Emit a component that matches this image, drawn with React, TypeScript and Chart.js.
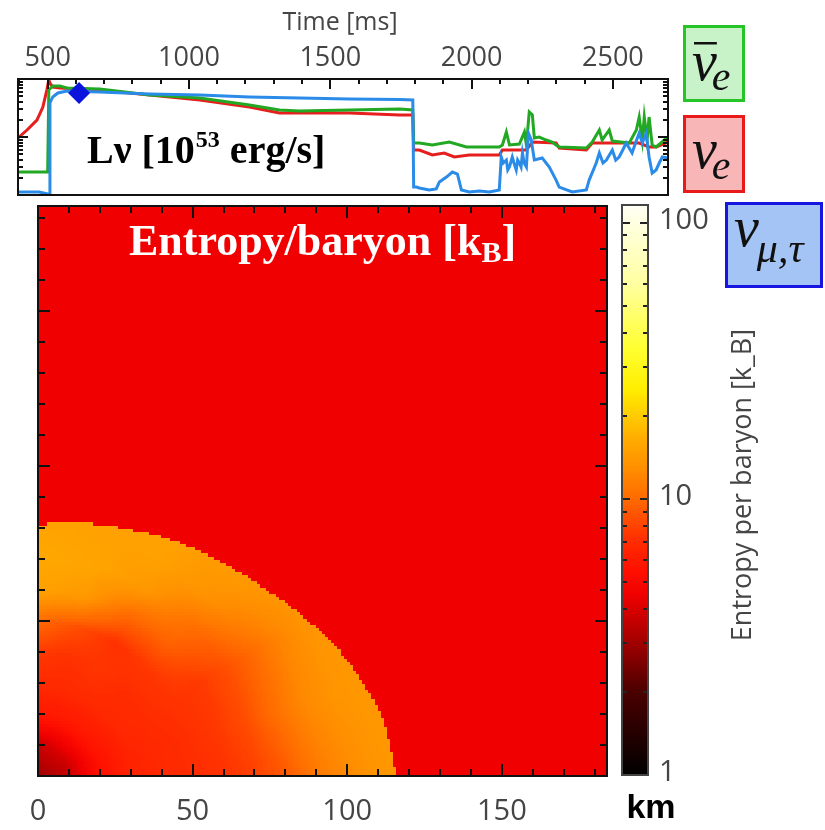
import React, { useEffect, useRef } from 'react';
import { Chart, registerables } from 'chart.js';

Chart.register(...registerables);

// ---------------- Top panel: neutrino luminosities ----------------
const TIME_MIN = 395;
const TIME_MAX = 2695;
const LUM_MIN = 0.01;
const LUM_MAX = 1;
const timeTickLabels = [500, 1000, 1500, 2000, 2500];

// electron neutrino (red)
const nuETime = [395, 427, 462, 483, 497, 504, 510, 518, 543, 684, 861, 1038, 1214, 1320, 1568, 1745, 1792, 1795, 1815, 1861, 1903, 1939, 1992, 2098, 2109, 2194, 2215, 2299, 2310, 2406, 2427, 2593, 2628, 2653, 2695];
const nuELum = [0.0962, 0.132, 0.196, 0.329, 0.646, 0.962, 0.82, 0.728, 0.70, 0.646, 0.530, 0.434, 0.329, 0.259, 0.259, 0.239, 0.239, 0.0597, 0.0597, 0.049, 0.053, 0.0452, 0.049, 0.049, 0.0597, 0.0597, 0.082, 0.0788, 0.0646, 0.0597, 0.0788, 0.0788, 0.0673, 0.0673, 0.082];

// electron anti-neutrino (green)
const nuEbarTime = [395, 500, 504, 518, 543, 568, 684, 861, 1038, 1214, 1320, 1391, 1568, 1745, 1792, 1795, 1815, 1861, 1921, 1982, 2098, 2109, 2123, 2134, 2169, 2187, 2194, 2204, 2215, 2222, 2239, 2264, 2285, 2299, 2310, 2406, 2427, 2452, 2462, 2487, 2498, 2558, 2583, 2593, 2604, 2611, 2621, 2628, 2639, 2653, 2695];
const nuEbarLum = [0.0249, 0.0249, 0.646, 0.757, 0.757, 0.70, 0.673, 0.530, 0.470, 0.356, 0.292, 0.281, 0.292, 0.304, 0.292, 0.0788, 0.0788, 0.0728, 0.082, 0.0673, 0.0673, 0.0728, 0.122, 0.0728, 0.0757, 0.122, 0.0728, 0.270, 0.239, 0.0962, 0.100, 0.0887, 0.082, 0.0728, 0.0673, 0.0646, 0.082, 0.132, 0.0887, 0.132, 0.0853, 0.0788, 0.132, 0.221, 0.0887, 0.221, 0.0887, 0.221, 0.0728, 0.0673, 0.100];

// mu/tau neutrinos (blue)
const nuXTime = [395, 470, 500, 507, 508, 518, 536, 568, 684, 861, 1038, 1214, 1391, 1568, 1745, 1792, 1795, 1805, 1815, 1850, 1875, 1886, 1911, 1932, 1950, 1964, 1992, 2028, 2063, 2098, 2105, 2112, 2123, 2128, 2134, 2144, 2150, 2158, 2163, 2169, 2175, 2180, 2186, 2194, 2201, 2211, 2222, 2250, 2275, 2299, 2310, 2356, 2406, 2416, 2441, 2452, 2465, 2477, 2498, 2510, 2522, 2535, 2547, 2568, 2580, 2593, 2604, 2618, 2628, 2639, 2653, 2664, 2675, 2695];
const nuXLum = [0.0113, 0.0113, 0.0104, 0.0101, 0.386, 0.490, 0.574, 0.621, 0.597, 0.551, 0.530, 0.490, 0.470, 0.452, 0.443, 0.434, 0.0137, 0.0137, 0.0132, 0.0122, 0.0127, 0.0168, 0.0204, 0.0249, 0.023, 0.0122, 0.0113, 0.0117, 0.0113, 0.0122, 0.0452, 0.0356, 0.0401, 0.027, 0.0304, 0.0452, 0.0356, 0.027, 0.0401, 0.0356, 0.0304, 0.053, 0.0356, 0.0304, 0.117, 0.0887, 0.0401, 0.0434, 0.0304, 0.0181, 0.0137, 0.0113, 0.0122, 0.0181, 0.0356, 0.053, 0.0356, 0.0401, 0.0597, 0.0401, 0.0452, 0.0597, 0.0788, 0.053, 0.0788, 0.117, 0.0788, 0.117, 0.0452, 0.0239, 0.027, 0.0356, 0.0452, 0.0434];

// snapshot marker
const markerTime = [611];
const markerLum = [0.574];

// ---------------- Entropy map ----------------
const KM_MAX = 184;
const kmTickLabels = [0, 50, 100, 150];
const shockAngles = [0, 10, 20, 30, 40, 50, 60, 70, 80, 90];
const shockRadius = [116, 113, 107.3, 100.8, 94.9, 90.9, 88, 85, 83, 81.2];
const gridAngles = [0, 15, 30, 45, 60, 75, 90];
const gridRadii = [0, 10, 20, 30, 40, 50, 60, 70, 80, 90, 100, 110, 120];
const entropyTheta0 = [3.0, 3.7, 5.4, 6.4, 6.8, 7.0, 7.2, 7.8, 9.0, 11, 12.5, 13.5, 14];
const entropyTheta15 = [3.0, 3.7, 5.5, 6.5, 6.8, 7.1, 7.5, 8.5, 10.5, 12.5, 13.5, 14, 14];
const entropyTheta30 = [3.0, 3.8, 5.7, 6.7, 7.0, 7.3, 7.5, 8.5, 10, 12, 13.5, 14, 14];
const entropyTheta45 = [3.0, 3.9, 5.9, 6.8, 7.0, 7.5, 9.5, 10.5, 13, 14, 14.5, 14.5, 14.5];
const entropyTheta60 = [3.0, 3.9, 5.9, 6.9, 7.4, 7.2, 10, 14, 15, 15, 15, 15, 15];
const entropyTheta75 = [3.0, 3.8, 5.9, 6.9, 7.2, 8.5, 14, 15.5, 15, 15, 15, 15, 15];
const entropyTheta90 = [3.0, 3.7, 5.9, 6.9, 7.5, 10, 15, 16, 15.5, 15.5, 15.5, 15.5, 15.5];
const outsideEntropy = 4.5;

// ---------------- Colour bar ----------------
const CB_MIN = 1;
const CB_MAX = 116;
const cbTickLabels = [1, 10, 100];
const cmapValues = [1, 2, 3, 4.5, 5.5, 7, 10, 13, 16, 25, 35, 60, 116];
const cmapColors = ['#000000', '#4a0000', '#a00000', '#f00000', '#ff1000', '#ff2c00', '#ff6a00', '#ff9000', '#ffa800', '#ffee00', '#ffff30', '#ffffa0', '#fffff5'];

const BLUE = '#2a8ce8';
const GREEN = '#22a822';
const RED = '#e61e1e';
const LABEL_FONT = '"Open Sans", "DejaVu Sans", sans-serif';
const LABEL_COLOR = '#454545';

// ---------------- helpers ----------------
function hexToRgb(h: string) {
  const n = parseInt(h.slice(1), 16);
  return [(n >> 16) & 255, (n >> 8) & 255, n & 255];
}
const cmapRgb = cmapColors.map(hexToRgb);
const cmapLog = cmapValues.map((v) => Math.log10(v));
const LUT_N = 600;
const LUT: string[] = [];
(function buildLut() {
  const lo = Math.log10(CB_MIN), hi = Math.log10(CB_MAX);
  for (let i = 0; i <= LUT_N; i++) {
    const lv = lo + ((hi - lo) * i) / LUT_N;
    let k = 0;
    while (k < cmapLog.length - 2 && lv > cmapLog[k + 1]) k++;
    const f = Math.max(0, Math.min(1, (lv - cmapLog[k]) / (cmapLog[k + 1] - cmapLog[k])));
    const a = cmapRgb[k], b = cmapRgb[k + 1];
    const c = a.map((ch, j) => Math.round(ch + (b[j] - ch) * f));
    LUT.push(`rgb(${c[0]},${c[1]},${c[2]})`);
  }
})();
function colorFor(v: number) {
  const lo = Math.log10(CB_MIN), hi = Math.log10(CB_MAX);
  const t = (Math.log10(Math.max(CB_MIN, Math.min(CB_MAX, v))) - lo) / (hi - lo);
  return LUT[Math.round(t * LUT_N)];
}
function interp1(xs: number[], ys: number[], x: number) {
  if (x <= xs[0]) return ys[0];
  for (let i = 1; i < xs.length; i++) {
    if (x <= xs[i]) {
      const f = (x - xs[i - 1]) / (xs[i] - xs[i - 1]);
      return ys[i - 1] + (ys[i] - ys[i - 1]) * f;
    }
  }
  return ys[ys.length - 1];
}
const entropyRows = [entropyTheta0, entropyTheta15, entropyTheta30, entropyTheta45, entropyTheta60, entropyTheta75, entropyTheta90];
function entropyAt(xk: number, yk: number) {
  const r = Math.hypot(xk, yk);
  const th = (Math.atan2(yk, xk) * 180) / Math.PI;
  const shock = interp1(shockAngles, shockRadius, th);
  if (r > shock) return outsideEntropy;
  const rowVals = entropyRows.map((row) => Math.log10(interp1(gridRadii, row, r)));
  return Math.pow(10, interp1(gridAngles, rowVals, th));
}

// ---------------- plugins ----------------
const topDecor = {
  id: 'topDecor',
  afterDraw(chart: any) {
    const { ctx, chartArea: a, scales } = chart;
    const xs = scales.x, ys = scales.y;
    ctx.save();
    ctx.strokeStyle = '#111';
    ctx.lineWidth = 2;
    ctx.beginPath();
    for (let t = 400; t <= 2600; t += 100) {
      const px = Math.round(xs.getPixelForValue(t));
      const len = t % 500 === 0 ? 10 : 5;
      ctx.moveTo(px, a.top);
      ctx.lineTo(px, a.top + len);
    }
    for (const d of [0.01, 0.1]) {
      for (let k = 1; k <= 9; k++) {
        const v = k * d;
        if (v <= LUM_MIN || v >= LUM_MAX) continue;
        const py = Math.round(ys.getPixelForValue(v));
        const len = k === 1 ? 10 : 5;
        ctx.moveTo(a.left, py);
        ctx.lineTo(a.left + len, py);
        ctx.moveTo(a.right, py);
        ctx.lineTo(a.right - len, py);
      }
    }
    ctx.stroke();
    ctx.strokeRect(a.left, a.top, a.right - a.left, a.bottom - a.top);
    // tick labels
    ctx.fillStyle = LABEL_COLOR;
    ctx.font = `27px ${LABEL_FONT}`;
    ctx.textAlign = 'center';
    ctx.textBaseline = 'middle';
    for (const t of timeTickLabels) {
      ctx.fillText(String(t), xs.getPixelForValue(t), 58);
    }
    ctx.font = `25px ${LABEL_FONT}`;
    ctx.fillText('Time [ms]', (a.left + a.right) / 2 - 3, 23);
    // panel label
    ctx.fillStyle = '#000';
    ctx.textAlign = 'left';
    ctx.textBaseline = 'alphabetic';
    const big = 'bold 40px "Liberation Serif", serif';
    const sup = 'bold 24px "Liberation Serif", serif';
    let x0 = 87;
    ctx.font = big;
    const s1 = 'L\u03bd [10';
    ctx.fillText(s1, x0, 163);
    x0 += ctx.measureText(s1).width;
    ctx.font = sup;
    ctx.fillText('53', x0 + 1, 147);
    x0 += ctx.measureText('53').width + 1;
    ctx.font = big;
    ctx.fillText(' erg/s]', x0, 163);

    // legend boxes
    const box = (x: number, y: number, w: number, h: number, fill: string, stroke: string) => {
      ctx.fillStyle = fill;
      ctx.fillRect(x, y, w, h);
      ctx.strokeStyle = stroke;
      ctx.lineWidth = 3;
      ctx.strokeRect(x + 1.5, y + 1.5, w - 3, h - 3);
    };
    const nuFont = 'italic 56px "Liberation Serif", serif';
    const subFont = 'italic 42px "Liberation Serif", serif';
    // anti electron neutrino
    box(683, 25, 62, 77, '#c8f2c8', '#26c426');
    ctx.fillStyle = '#111';
    ctx.font = nuFont;
    ctx.fillText('\u03bd', 692, 80);
    const nuW = ctx.measureText('\u03bd').width;
    ctx.fillRect(694, 42, nuW - 2, 2.5);
    ctx.font = subFont;
    ctx.fillText('e', 692 + nuW - 5, 90);
    // electron neutrino
    box(683, 115, 62, 78, '#f8b6b6', '#e81a1a');
    ctx.fillStyle = '#111';
    ctx.font = nuFont;
    ctx.fillText('\u03bd', 692, 168);
    ctx.font = subFont;
    ctx.fillText('e', 692 + nuW - 5, 179);
    // mu tau neutrinos
    box(725, 202, 98, 86, '#a4c4f6', '#1616e0');
    ctx.fillStyle = '#111';
    ctx.font = nuFont;
    ctx.fillText('\u03bd', 734, 246);
    ctx.font = subFont;
    ctx.fillText('\u03bc,\u03c4', 734 + nuW - 2, 262);
    ctx.restore();
  },
};

const heatPlugin = {
  id: 'heat',
  beforeDatasetsDraw(chart: any) {
    const { ctx, scales } = chart;
    const xs = scales.x, ys = scales.y;
    ctx.save();
    const step = 1;
    for (let i = 0; i < KM_MAX; i += step) {
      const xa = Math.floor(xs.getPixelForValue(i));
      const xb = Math.ceil(xs.getPixelForValue(Math.min(KM_MAX, i + step)));
      for (let j = 0; j < KM_MAX; j += step) {
        const ya = Math.ceil(ys.getPixelForValue(j));
        const yb = Math.floor(ys.getPixelForValue(Math.min(KM_MAX, j + step)));
        ctx.fillStyle = colorFor(entropyAt(i + step / 2, j + step / 2));
        ctx.fillRect(xa, yb, xb - xa, ya - yb);
      }
    }
    ctx.restore();
  },
  afterDraw(chart: any) {
    const { ctx, chartArea: a, scales } = chart;
    const xs = scales.x, ys = scales.y;
    ctx.save();
    ctx.strokeStyle = '#111';
    ctx.lineWidth = 2;
    ctx.beginPath();
    for (let v = 10; v < KM_MAX; v += 10) {
      const len = v % 50 === 0 ? 12 : 7;
      const px = Math.round(xs.getPixelForValue(v));
      const py = Math.round(ys.getPixelForValue(v));
      ctx.moveTo(px, a.bottom); ctx.lineTo(px, a.bottom - len);
      ctx.moveTo(px, a.top); ctx.lineTo(px, a.top + len);
      ctx.moveTo(a.left, py); ctx.lineTo(a.left + len, py);
      ctx.moveTo(a.right, py); ctx.lineTo(a.right - len, py);
    }
    ctx.stroke();
    ctx.strokeRect(a.left, a.top, a.right - a.left, a.bottom - a.top);
    // x labels
    ctx.fillStyle = LABEL_COLOR;
    ctx.font = `29px ${LABEL_FONT}`;
    ctx.textAlign = 'center';
    ctx.textBaseline = 'middle';
    for (const v of kmTickLabels) ctx.fillText(String(v), xs.getPixelForValue(v), a.bottom + 36);
    // title inside map
    ctx.fillStyle = '#fff';
    ctx.textAlign = 'left';
    ctx.textBaseline = 'alphabetic';
    const big = 'bold 44px "Liberation Serif", serif';
    const sub = 'bold 30px "Liberation Serif", serif';
    ctx.font = big;
    const s1 = 'Entropy/baryon [k';
    const w1 = ctx.measureText(s1).width;
    const w3 = ctx.measureText(']').width;
    ctx.font = sub;
    const w2 = ctx.measureText('B').width;
    const x0 = (a.left + a.right) / 2 - (w1 + w2 + w3) / 2;
    const base = a.top + 49;
    ctx.font = big;
    ctx.fillText(s1, x0, base);
    ctx.font = sub;
    ctx.fillText('B', x0 + w1, base + 7);
    ctx.font = big;
    ctx.fillText(']', x0 + w1 + w2, base);
    ctx.restore();
  },
};

const cbPlugin = {
  id: 'cb',
  beforeDatasetsDraw(chart: any) {
    const { ctx, chartArea: a, scales } = chart;
    const ys = scales.y;
    ctx.save();
    for (let py = Math.floor(a.top); py < a.bottom; py++) {
      ctx.fillStyle = colorFor(ys.getValueForPixel(py + 0.5));
      ctx.fillRect(a.left, py, a.right - a.left, 1);
    }
    ctx.restore();
  },
  afterDraw(chart: any) {
    const { ctx, chartArea: a, scales } = chart;
    const ys = scales.y;
    ctx.save();
    ctx.strokeStyle = '#222';
    ctx.lineWidth = 2;
    ctx.beginPath();
    for (const d of [1, 10]) {
      for (let k = 1; k <= 9; k++) {
        const v = k * d;
        if (v <= CB_MIN || v >= CB_MAX) continue;
        const py = Math.round(ys.getPixelForValue(v));
        const len = k === 1 ? 8 : 5;
        ctx.moveTo(a.left, py); ctx.lineTo(a.left + len, py);
        ctx.moveTo(a.right, py); ctx.lineTo(a.right - len, py);
      }
    }
    const p100 = Math.round(ys.getPixelForValue(100));
    ctx.moveTo(a.left, p100); ctx.lineTo(a.left + 8, p100);
    ctx.moveTo(a.right, p100); ctx.lineTo(a.right - 8, p100);
    ctx.stroke();
    ctx.strokeStyle = '#444';
    ctx.strokeRect(a.left, a.top, a.right - a.left, a.bottom - a.top);
    ctx.fillStyle = LABEL_COLOR;
    ctx.font = `29px ${LABEL_FONT}`;
    ctx.textAlign = 'left';
    ctx.textBaseline = 'middle';
    for (const v of cbTickLabels) ctx.fillText(String(v), a.right + 11, ys.getPixelForValue(v) - 2);
    // title
    ctx.save();
    ctx.translate(a.right + 95, (a.top + a.bottom) / 2 - 5);
    ctx.rotate(-Math.PI / 2);
    ctx.textAlign = 'center';
    ctx.font = `27px ${LABEL_FONT}`;
    ctx.fillText('Entropy per baryon [k_B]', 0, 0);
    ctx.restore();
    // km
    ctx.fillStyle = '#000';
    ctx.font = 'bold 34px "Liberation Sans", Arial, sans-serif';
    ctx.textAlign = 'center';
    ctx.fillText('km', a.left + 29, a.bottom + 34);
    ctx.restore();
  },
};

function TopPanel() {
  const ref = useRef<HTMLCanvasElement>(null);
  useEffect(() => {
    const pts = (t: number[], l: number[]) => t.map((x, i) => ({ x, y: l[i] }));
    const line = { pointRadius: 0, borderWidth: 3, fill: false, tension: 0 };
    const chart = new Chart(ref.current as HTMLCanvasElement, {
      type: 'line',
      data: {
        datasets: [
          { ...line, data: pts(markerTime, markerLum), showLine: false, pointStyle: 'rectRot', pointRadius: 11, backgroundColor: '#0a14dc', borderWidth: 0, order: 0 } as any,
          { ...line, data: pts(nuXTime, nuXLum), borderColor: BLUE, order: 1 },
          { ...line, data: pts(nuEbarTime, nuEbarLum), borderColor: GREEN, order: 2 },
          { ...line, data: pts(nuETime, nuELum), borderColor: RED, order: 3 },
        ],
      },
      options: {
        animation: false,
        responsive: false,
        maintainAspectRatio: false,
        layout: { padding: { left: 18, top: 79, right: 157, bottom: 105 } },
        plugins: { legend: { display: false }, tooltip: { enabled: false } },
        scales: {
          x: { type: 'linear', min: TIME_MIN, max: TIME_MAX, display: false },
          y: { type: 'logarithmic', min: LUM_MIN, max: LUM_MAX, display: false },
        },
      },
      plugins: [topDecor],
    });
    return () => chart.destroy();
  }, []);
  return <canvas ref={ref} width={825} height={300} style={{ position: 'absolute', left: 0, top: 0, zIndex: 3 }} />;
}

function HeatPanel() {
  const ref = useRef<HTMLCanvasElement>(null);
  useEffect(() => {
    const chart = new Chart(ref.current as HTMLCanvasElement, {
      type: 'scatter',
      data: { datasets: [{ data: [] }] },
      options: {
        animation: false,
        responsive: false,
        maintainAspectRatio: false,
        layout: { padding: { left: 38, top: 11, right: 13, bottom: 54 } },
        plugins: { legend: { display: false }, tooltip: { enabled: false } },
        scales: {
          x: { type: 'linear', min: 0, max: KM_MAX, display: false },
          y: { type: 'linear', min: 0, max: KM_MAX, display: false },
        },
      },
      plugins: [heatPlugin],
    });
    return () => chart.destroy();
  }, []);
  return <canvas ref={ref} width={620} height={635} style={{ position: 'absolute', left: 0, top: 195, zIndex: 1 }} />;
}

function ColorBar() {
  const ref = useRef<HTMLCanvasElement>(null);
  useEffect(() => {
    const chart = new Chart(ref.current as HTMLCanvasElement, {
      type: 'scatter',
      data: { datasets: [{ data: [] }] },
      options: {
        animation: false,
        responsive: false,
        maintainAspectRatio: false,
        layout: { padding: { left: 12, top: 10, right: 177, bottom: 55 } },
        plugins: { legend: { display: false }, tooltip: { enabled: false } },
        scales: {
          x: { type: 'linear', min: 0, max: 1, display: false },
          y: { type: 'logarithmic', min: CB_MIN, max: CB_MAX, display: false },
        },
      },
      plugins: [cbPlugin],
    });
    return () => chart.destroy();
  }, []);
  return <canvas ref={ref} width={215} height={635} style={{ position: 'absolute', left: 610, top: 195, zIndex: 2 }} />;
}

export default function App() {
  return (
    <div style={{ position: 'absolute', left: 0, top: 0, width: 825, height: 830, background: '#fff', overflow: 'hidden' }}>
      <HeatPanel />
      <ColorBar />
      <TopPanel />
    </div>
  );
}
